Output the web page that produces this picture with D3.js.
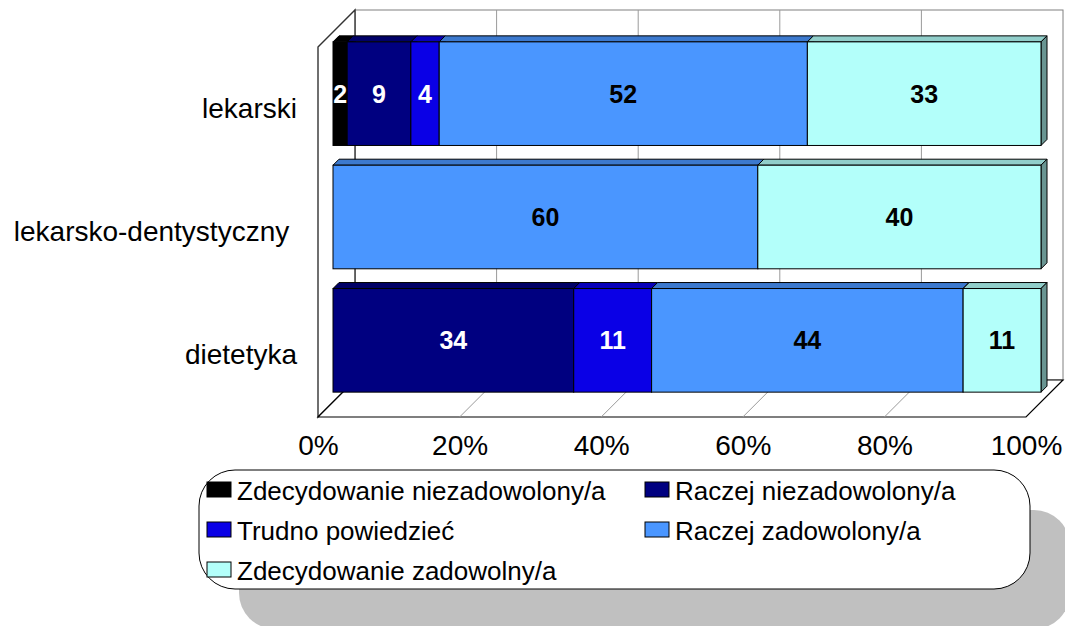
<!DOCTYPE html>
<html>
<head>
<meta charset="utf-8">
<script src="https://cdn.jsdelivr.net/npm/d3@7"></script>
<style>
  body { margin: 0; background: #fff; }
  text { font-family: "Liberation Sans", Arial, sans-serif; }
</style>
</head>
<body>
<div id="chart"></div>
<script>
// data
var categories = ["lekarski", "lekarsko-dentystyczny\u00a0", "dietetyka"];
var seriesNames = ["Zdecydowanie niezadowolony/a", "Raczej niezadowolony/a", "Trudno powiedzieć",
                   "Raczej zadowolony/a", "Zdecydowanie zadowolny/a"];
var zdecydowanieNiezadowolony = [2, 0, 0];
var raczejNiezadowolony = [9, 0, 34];
var trudnoPowiedziec = [4, 0, 11];
var raczejZadowolony = [52, 60, 44];
var zdecydowanieZadowolony = [33, 40, 11];
var tickValues = [0, 20, 40, 60, 80, 100];

var seriesColors = ["#000000", "#000080", "#0a00e6", "#4a96ff", "#b3fffa"];
var labelColors = ["#fff", "#fff", "#fff", "#000", "#000"];
var legendOrder = [0, 1, 2, 3, 4];

var seriesValues = [zdecydowanieNiezadowolony, raczejNiezadowolony, trudnoPowiedziec,
                    raczejZadowolony, zdecydowanieZadowolony];

var W = 1065, H = 626;
var front = {left: 318, right: 1026, top: 47, bottom: 417};
var wallDepth = 37;   // oblique offset of the back wall
var barShift = 15;    // bars sit a little behind the front plane
var barDepth = 6;

var svg = d3.select("#chart").append("svg")
  .attr("width", W).attr("height", H);

var x = d3.scaleLinear().domain([0, 100]).range([front.left, front.right]);
var y = d3.scaleBand().domain(categories).range([front.top, front.bottom])
  .paddingInner(0.16).paddingOuter(0.08);

// ---- walls ----
var walls = svg.append("g");
// back wall
walls.append("rect")
  .attr("x", x(0) + wallDepth).attr("y", front.top - wallDepth)
  .attr("width", x(100) - x(0)).attr("height", front.bottom - front.top)
  .attr("fill", "#fff").attr("stroke", "#808080").attr("stroke-width", 1);
// left wall
walls.append("path")
  .attr("d", "M" + [x(0), front.top] + "L" + [x(0) + wallDepth, front.top - wallDepth] +
             "L" + [x(0) + wallDepth, front.bottom - wallDepth] + "L" + [x(0), front.bottom] + "Z")
  .attr("fill", "#fff").attr("stroke", "#333").attr("stroke-width", 1.4);
// floor
walls.append("path")
  .attr("d", "M" + [x(0), front.bottom] + "L" + [x(0) + wallDepth, front.bottom - wallDepth] +
             "L" + [x(100) + wallDepth, front.bottom - wallDepth] + "L" + [x(100), front.bottom] + "Z")
  .attr("fill", "#fff").attr("stroke", "#000").attr("stroke-width", 1.2);

// gridlines on back wall and floor
var inner = tickValues.filter(function(d) { return d > 0 && d < 100; });
walls.selectAll(".gridBack").data(inner).enter().append("line")
  .attr("x1", function(d) { return x(d) + wallDepth; })
  .attr("x2", function(d) { return x(d) + wallDepth; })
  .attr("y1", front.top - wallDepth).attr("y2", front.bottom - wallDepth)
  .attr("stroke", "#9a9a9a").attr("stroke-width", 1);
walls.selectAll(".gridFloor").data(inner).enter().append("line")
  .attr("x1", function(d) { return x(d); })
  .attr("x2", function(d) { return x(d) + wallDepth; })
  .attr("y1", front.bottom).attr("y2", front.bottom - wallDepth)
  .attr("stroke", "#9a9a9a").attr("stroke-width", 1);

// ---- bars ----
var segments = [];
categories.forEach(function(cat, ci) {
  var acc = 0;
  seriesValues.forEach(function(vals, si) {
    var v = vals[ci];
    if (v > 0) segments.push({cat: cat, series: si, v: v, x0: acc, x1: acc + v});
    acc += v;
  });
});

var bars = svg.append("g").attr("transform", "translate(" + barShift + "," + (-barShift) + ")");
var seg = bars.selectAll("g.seg").data(segments).enter().append("g").attr("class", "seg");

seg.append("path")   // top face
  .attr("d", function(d) {
    var a = x(d.x0), b = x(d.x1), t = y(d.cat);
    return "M" + [a, t] + "L" + [a + barDepth, t - barDepth] + "L" + [b + barDepth, t - barDepth] + "L" + [b, t] + "Z";
  })
  .attr("fill", function(d) { return d3.color(seriesColors[d.series]).darker(0.6); })
  .attr("stroke", "#000").attr("stroke-width", 1);
seg.append("path")   // right face
  .attr("d", function(d) {
    var b = x(d.x1), t = y(d.cat), bt = t + y.bandwidth();
    return "M" + [b, t] + "L" + [b + barDepth, t - barDepth] + "L" + [b + barDepth, bt - barDepth] + "L" + [b, bt] + "Z";
  })
  .attr("fill", function(d) { return d3.color(seriesColors[d.series]).darker(1.5); })
  .attr("stroke", "#000").attr("stroke-width", 1);
seg.append("rect")   // front face
  .attr("x", function(d) { return x(d.x0); })
  .attr("y", function(d) { return y(d.cat); })
  .attr("width", function(d) { return x(d.x1) - x(d.x0); })
  .attr("height", y.bandwidth())
  .attr("fill", function(d) { return seriesColors[d.series]; })
  .attr("stroke", "#000").attr("stroke-width", 1);

bars.selectAll("text.lab").data(segments).enter().append("text")
  .attr("class", "lab")
  .attr("x", function(d) { return (x(d.x0) + x(d.x1)) / 2; })
  .attr("y", function(d) { return y(d.cat) + y.bandwidth() / 2; })
  .attr("dy", "0.36em")
  .attr("text-anchor", "middle")
  .style("font-size", "25px").style("font-weight", "bold")
  .attr("fill", function(d) { return labelColors[d.series]; })
  .text(function(d) { return d.v; });

// ---- axes ----
var xAxis = svg.append("g")
  .attr("transform", "translate(0," + front.bottom + ")")
  .call(d3.axisBottom(x).tickValues(tickValues).tickSize(0).tickPadding(18)
        .tickFormat(function(d) { return d + "%"; }));
xAxis.select(".domain").remove();
xAxis.selectAll("text").style("font-size", "28px").attr("fill", "#000")
  .style("font-family", "'Liberation Sans', Arial, sans-serif");

var yAxis = svg.append("g")
  .attr("transform", "translate(" + front.left + ",0)")
  .call(d3.axisLeft(y).tickSize(0).tickPadding(21));
yAxis.select(".domain").remove();
yAxis.selectAll("text").style("font-size", "28px").attr("fill", "#000")
  .style("white-space", "pre")
  .style("font-family", "'Liberation Sans', Arial, sans-serif");

// ---- legend ----
var lg = {x: 199, y: 470, w: 831, h: 119, r: 36};
svg.append("rect")
  .attr("x", lg.x + 40).attr("y", lg.y + 40).attr("width", lg.w).attr("height", lg.h)
  .attr("rx", lg.r).attr("ry", lg.r).attr("fill", "#c0c0c0");
svg.append("rect")
  .attr("x", lg.x).attr("y", lg.y).attr("width", lg.w).attr("height", lg.h)
  .attr("rx", lg.r).attr("ry", lg.r).attr("fill", "#fff").attr("stroke", "#000").attr("stroke-width", 1);

var item = svg.selectAll("g.leg").data(legendOrder).enter().append("g")
  .attr("class", "leg")
  .attr("transform", function(d, i) {
    return "translate(" + (i % 2 === 0 ? 207 : 645) + "," + (482 + Math.floor(i / 2) * 40) + ")";
  });
item.append("rect")
  .attr("width", 24).attr("height", 15)
  .attr("fill", function(d) { return seriesColors[d]; })
  .attr("stroke", "#000").attr("stroke-width", 1);
item.append("text")
  .attr("x", 30).attr("y", 18)
  .style("font-size", "26px").attr("fill", "#000")
  .text(function(d) { return seriesNames[d]; });
</script>
</body>
</html>
